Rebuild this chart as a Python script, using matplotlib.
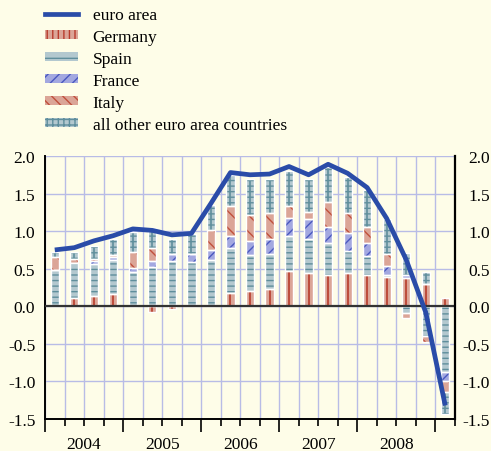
import numpy as np
import matplotlib
matplotlib.use("Agg")
import matplotlib.pyplot as plt
from matplotlib.patches import Patch
from matplotlib.lines import Line2D

plt.rcParams['font.family'] = ['Liberation Serif', 'DejaVu Serif']
plt.rcParams['hatch.linewidth'] = 1.0

# quarters 2004Q1 .. 2009Q1
years = ['2004', '2005', '2006', '2007', '2008']
euro_area = [0.75, 0.78, 0.87, 0.94, 1.03, 1.01, 0.95, 0.97, 1.37, 1.78, 1.75,
             1.76, 1.86, 1.75, 1.89, 1.77, 1.58, 1.17, 0.62, -0.08, -1.32]
germany = [0.00, 0.11, 0.14, 0.16, 0.00, -0.08, -0.03, 0.01, 0.01, 0.18, 0.21,
           0.23, 0.47, 0.44, 0.42, 0.44, 0.42, 0.39, 0.37, 0.30, 0.11]
spain = [0.48, 0.46, 0.42, 0.46, 0.45, 0.52, 0.60, 0.58, 0.61, 0.60, 0.47,
         0.46, 0.46, 0.46, 0.42, 0.30, 0.25, 0.03, -0.09, -0.40, -0.88]
france = [0.00, 0.00, 0.04, 0.04, 0.06, 0.08, 0.09, 0.10, 0.13, 0.16, 0.19,
          0.21, 0.24, 0.26, 0.22, 0.24, 0.17, 0.12, 0.04, 0.00, -0.11]
italy = [0.17, 0.06, 0.03, 0.02, 0.21, 0.17, 0.00, 0.00, 0.27, 0.39, 0.35,
         0.34, 0.17, 0.09, 0.33, 0.26, 0.21, 0.16, -0.06, -0.07, -0.15]
others = [0.07, 0.09, 0.17, 0.21, 0.27, 0.27, 0.21, 0.27, 0.33, 0.42, 0.48,
          0.46, 0.46, 0.45, 0.47, 0.48, 0.50, 0.46, 0.30, 0.15, -0.29]

# name, values, fill, line colour, hatch, centre line, legend hatch
series = [
    ('Germany', germany, '#dba597', '#b83c2c', '', True, '|||'),
    ('Spain', spain, '#b3c8cf', '#5f8e9c', '---', False, '-'),
    ('France', france, '#a3a8e0', '#4a58c0', '///', False, '///'),
    ('Italy', italy, '#dba597', '#c0503c', '\\\\', False, '\\\\\\'),
    ('all other euro area countries', others, '#b3c8cf', '#5f8e9c', '---', True, '+++'),
]

bg = '#fefde8'
grid_c = '#b8bce6'
x = np.arange(len(euro_area))
w = 0.42

fig = plt.figure(figsize=(4.91, 4.52), dpi=100, facecolor=bg)
ax = fig.add_axes([45/491, 1-420/452, 410/491, 263/452], facecolor=bg)

pos = np.zeros(len(x))
neg = np.zeros(len(x))
for name, vals, fc, hc, hatch, centre, lh in series:
    v = np.array(vals)
    bottom = np.where(v >= 0, pos, neg)
    ax.bar(x, v, w, bottom=bottom, color=fc, edgecolor=hc, hatch=hatch,
           linewidth=0, zorder=2)
    if centre:
        ax.vlines(x, bottom, bottom + v, color=hc, lw=1.2, zorder=2.5)
    ax.bar(x, v, w, bottom=bottom, fill=False, edgecolor='white',
           linewidth=1.0, zorder=3)
    pos = pos + np.where(v >= 0, v, 0)
    neg = neg + np.where(v < 0, v, 0)

ax.axhline(0, color='#333333', lw=1.6, zorder=4)
ax.plot(x, euro_area, color='#2a4ca8', lw=3.4, zorder=5,
        solid_capstyle='butt')

ax.set_xlim(-0.5, len(x) - 0.5)
ax.set_ylim(-1.5, 2.0)
yt = np.arange(-1.5, 2.01, 0.5)
ax.set_yticks(yt)
ax.set_yticklabels(['%.1f' % t for t in yt], fontsize=12.5)
ax.tick_params(axis='y', length=0, pad=7)

ax.set_xticks(np.arange(-0.5, len(x), 4))
ax.set_xticks(np.arange(-0.5, len(x), 1), minor=True)
ax.set_xticklabels([])
ax.tick_params(axis='x', which='major', length=9, width=1.2, color='black')
ax.tick_params(axis='x', which='minor', length=5, width=1.2, color='black')
for k, yr in enumerate(years):
    ax.text(4*k + 1.5, -0.065, yr, transform=ax.get_xaxis_transform(),
            ha='center', va='top', fontsize=12.5)

for gx in np.arange(-0.5, len(x), 1):
    ax.axvline(gx, color=grid_c, lw=1.0, zorder=1)
for gy in yt:
    ax.axhline(gy, color=grid_c, lw=1.0, zorder=1)

ax.spines['top'].set_visible(False)
for s in ['left', 'right', 'bottom']:
    ax.spines[s].set_color('black')
    ax.spines[s].set_linewidth(1.4)

ax2 = ax.twinx()
ax2.set_ylim(-1.5, 2.0)
ax2.set_yticks(yt)
ax2.set_yticklabels(['%.1f' % t for t in yt], fontsize=12.5, ha='right')
ax2.tick_params(axis='y', length=0, pad=25)
for s in ['left', 'top', 'bottom']:
    ax2.spines[s].set_visible(False)
ax2.spines['right'].set_linewidth(1.6)

handles = [Line2D([], [], color='#2a4ca8', lw=3.4)]
labels = ['euro area']
for name, vals, fc, hc, hatch, centre, lh in series:
    handles.append(Patch(facecolor=fc, edgecolor=hc, hatch=lh, linewidth=0))
    labels.append(name)
fig.legend(handles, labels, loc='upper left',
           bbox_to_anchor=(45/491, 1 - 8/452), frameon=False, fontsize=12.5,
           borderpad=0, borderaxespad=0, handlelength=1.9, handleheight=0.4,
           handletextpad=0.85, labelspacing=0.34)

fig.savefig('out.png', dpi=100, facecolor=bg)
